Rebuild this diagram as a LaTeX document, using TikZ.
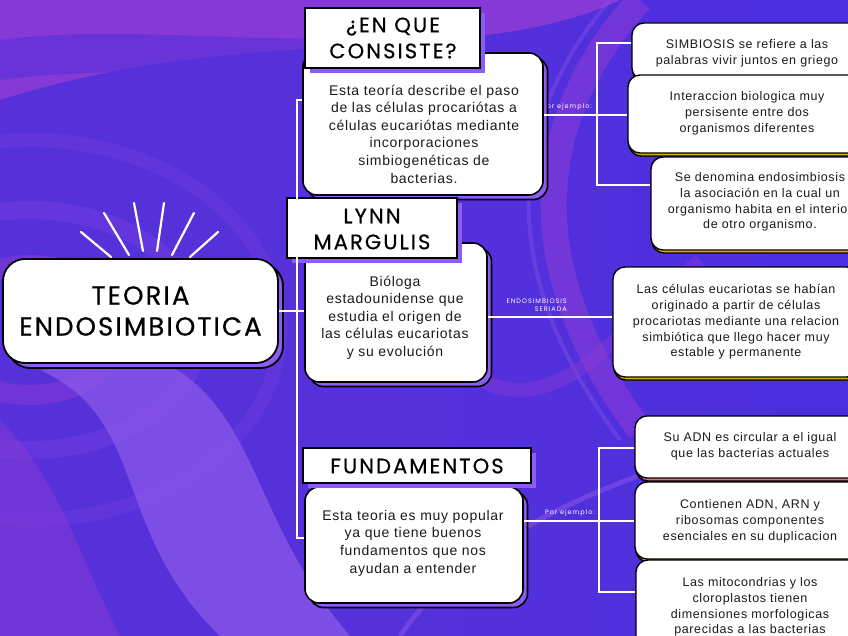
\documentclass[tikz,border=0pt]{standalone}
\usepackage{fontspec}
\setmainfont{Liberation Sans}
\newfontfamily\headfont{Poppins}[LetterSpace=10,FakeBold=0.5]
\newfontfamily\titlefont{Poppins}[LetterSpace=8,FakeBold=0.6]
\newfontfamily\smallfont{Poppins}[LetterSpace=15]
\newfontfamily\bodyfont{Liberation Sans}[LetterSpace=5]
\usetikzlibrary{shadows}
\definecolor{bgbase}{HTML}{5631D9}
\definecolor{bgmag}{HTML}{8F3BD6}
\definecolor{bglav}{HTML}{8B58EA}
\definecolor{bgblue}{HTML}{4A2EE0}
\definecolor{bgring}{HTML}{7A3FE4}
\definecolor{shpurple}{HTML}{8D5CF5}
\definecolor{shgold}{HTML}{E0B000}
\definecolor{shpink}{HTML}{D97078}
\definecolor{txt}{HTML}{1A1A1A}
\tikzset{
  bodybox/.style={draw=black, line width=1.6pt, fill=white, rounded corners=14pt, inner sep=0pt,
    general shadow={shadow xshift=4.5pt, shadow yshift=-4.5pt, fill=shpurple, draw=black, line width=1.6pt}},
  mainbox/.style={draw=black, line width=1.8pt, fill=white, rounded corners=22pt, inner sep=0pt,
    general shadow={shadow xshift=5pt, shadow yshift=-5pt, fill=shpurple, draw=black, line width=1.8pt}},
  headbox/.style={draw=black, line width=1.6pt, fill=white, inner sep=0pt,
    general shadow={shadow xshift=5pt, shadow yshift=-5pt, fill=shpurple}},
  rbox/.style={draw=black, line width=1.4pt, fill=white, rounded corners=12pt, inner sep=0pt,
    general shadow={shadow xshift=1pt, shadow yshift=-3pt, fill=shgold, draw=black, line width=1.4pt}},
  rboxpink/.style={rbox, general shadow={shadow xshift=1pt, shadow yshift=-3pt, fill=shpink, draw=black, line width=1.4pt}},
  bodytext/.style={align=center, text=txt, inner sep=0pt, font=\bodyfont\fontsize{14}{17.6}\selectfont},
  rtext/.style={align=center, text=txt, inner sep=0pt, font=\bodyfont\fontsize{12.5}{15.8}\selectfont},
  headtext/.style={align=center, text=black, inner sep=0pt, font=\headfont\fontsize{21}{26}\selectfont},
  lbl/.style={text=white, inner sep=0pt, font=\smallfont\fontsize{6.5}{8.5}\selectfont},
  conn/.style={draw=white, line width=1.5pt},
  ray/.style={draw=white, line width=2.2pt, line cap=round},
}
\begin{document}
\begin{tikzpicture}[x=1pt,y=-1pt]
\useasboundingbox (0,0) rectangle (848,636);
\clip (0,0) rectangle (848,636);
% background
\fill[bgbase] (0,0) rectangle (848,636);
\shade[left color=bgbase, right color=bgblue] (380,0) rectangle (848,636);
\fill[bgmag, opacity=.85] (0,0) -- (620,0) .. controls (470,70) and (250,20) .. (0,100) -- cycle;
\fill[bgbase, opacity=.6] (0,40) .. controls (150,20) and (350,60) .. (480,20) .. controls (340,90) and (150,60) .. (0,80) -- cycle;
\draw[bgring, opacity=.4, line width=18pt] (30,330) ellipse (170 and 120);
\draw[bgring, opacity=.3, line width=14pt] (30,330) ellipse (250 and 190);
\draw[bgmag, opacity=.45, line width=20pt] (30,330) ellipse (90 and 65);
\fill[bglav, opacity=.75] (40,370) .. controls (150,420) and (110,530) .. (220,636) -- (350,636) .. controls (250,520) and (260,410) .. (160,360) -- cycle;
\fill[bgmag, opacity=.45] (0,420) .. controls (60,480) and (80,560) .. (120,636) -- (0,636) -- cycle;
\draw[bgmag, opacity=.55, line width=26pt] (640,0) .. controls (530,120) and (520,270) .. (640,430);
\draw[bglav, opacity=.35, line width=4pt] (610,0) .. controls (500,130) and (500,280) .. (620,440);
\draw[bglav, opacity=.5, line width=5pt] (400,636) .. controls (450,560) and (580,470) .. (848,420);
\draw[bgmag, opacity=.4, line width=14pt] (480,380) .. controls (560,420) and (620,330) .. (700,260);
% rays
\draw[ray] (81,232) -- (111,257);
\draw[ray] (104,213) -- (129,255);
\draw[ray] (134,203) -- (143,251);
\draw[ray] (164,203) -- (157,251);
\draw[ray] (194,213) -- (172,255);
\draw[ray] (218,232) -- (190,257);
% labels (under boxes)
\node[lbl, anchor=east] (pe1) at (592,107) {Por ejemplo:};
\node[lbl, anchor=east] (pe2) at (595,513) {Por ejemplo:};
\node[lbl, anchor=south east, align=right] (es) at (567,312) {ENDOSIMBIOSIS\\SERIADA};
% boxes
\node[bodybox, minimum width=240pt, minimum height=142pt] (b1) at (423,124) {};
\node[bodybox, minimum width=182pt, minimum height=139pt] (b2) at (396,312.5) {};
\node[bodybox, minimum width=218pt, minimum height=116pt] (b3) at (414,545) {};
\node[mainbox, minimum width=275pt, minimum height=104pt] (main) at (140.5,311) {};
% connectors
\coordinate (lt) at (297,100);
\coordinate (lb) at (297,538);
\coordinate (rt) at (597,115);
\coordinate (rt1) at (597,43);
\coordinate (rt3) at (597,185);
\coordinate (mr) at (550,317);
\coordinate (rb) at (599,521);
\coordinate (rb1) at (599,448);
\coordinate (rb3) at (599,592);
% headers
\node[headbox, minimum width=175pt, minimum height=60pt] (h1) at (392.5,38) {};
\node[headbox, minimum width=170pt, minimum height=60pt] (h2) at (372,228) {};
\node[headbox, minimum width=228pt, minimum height=35pt] (h3) at (417,465.5) {};
% right boxes
\node[rbox, minimum width=232pt, minimum height=57pt] (r1) at (748,51.5) {};
\node[rbox, minimum width=240pt, minimum height=78pt] (r2) at (748,114) {};
\node[rbox, minimum width=218pt, minimum height=93pt] (r3) at (760,203.5) {};
\node[rbox, minimum width=246pt, minimum height=110pt] (r4) at (736,322) {};
\node[rboxpink, minimum width=230pt, minimum height=62pt] (r5) at (750,447) {};
\node[rbox, minimum width=230pt, minimum height=77pt] (r6) at (750,520.5) {};
\node[rbox, minimum width=230pt, minimum height=100pt] (r7) at (751,610) {};
% connector lines
\draw[conn] (lt -| b1.west) -- (lt) -- (lb) -- (lb -| b3.west);
\draw[conn] (main.east) -- (main.east -| b2.west);
\draw[conn] (rt -| b1.east) -- (rt -| r2.west);
\draw[conn] (rt1 -| r1.west) -- (rt1) -- (rt3) -- (rt3 -| r3.west);
\draw[conn] (mr -| b2.east) -- (mr -| r4.west);
\draw[conn] (rb -| b3.east) -- (rb -| r6.west);
\draw[conn] (rb1 -| r5.west) -- (rb1) -- (rb3) -- (rb3 -| r7.west);
% texts
\node[align=center, inner sep=0pt, font=\titlefont\fontsize{26}{31}\selectfont] (maint) at (140.5,311) {TEORIA\\ENDOSIMBIOTICA};
\node[headtext] (h1t) at (393,38) {¿EN QUE\\CONSISTE?};
\node[headtext] (h2t) at (372,229) {LYNN\\MARGULIS};
\node[headtext] (h3t) at (417,466) {FUNDAMENTOS};
\node[bodytext] (b1t) at (424,134) {Esta teoría describe el paso\\de las células procariótas a\\células eucariótas mediante\\incorporaciones\\simbiogenéticas de\\bacterias.};
\node[bodytext] (b2t) at (395,317.5) {Bióloga\\estadounidense que\\estudia el origen de\\las células eucariotas\\y su evolución};
\node[bodytext] (b3t) at (413,543) {Esta teoria es muy popular\\ya que tiene buenos\\fundamentos que nos\\ayudan a entender};
\node[rtext] (r1t) at (747,53) {SIMBIOSIS se refiere a las\\palabras vivir juntos en griego};
\node[rtext] (r2t) at (747,113) {Interaccion biologica muy\\persisente entre dos\\organismos diferentes};
\node[rtext] (r3t) at (760,202) {Se denomina endosimbiosis\\la asociación en la cual un\\organismo habita en el interior\\de otro organismo.};
\node[rtext] (r4t) at (736,322) {Las células eucariotas se habían\\originado a partir de células\\procariotas mediante una relacion\\simbiótica que llego hacer muy\\estable y permanente};
\node[rtext] (r5t) at (750,446) {Su ADN es circular a el igual\\que las bacterias actuales};
\node[rtext] (r6t) at (750,521) {Contienen ADN, ARN y\\ribosomas componentes\\esenciales en su duplicacion};
\node[rtext] (r7t) at (750,607) {Las mitocondrias y los\\cloroplastos tienen\\dimensiones morfologicas\\parecidas a las bacterias};
\end{tikzpicture}
\end{document}
